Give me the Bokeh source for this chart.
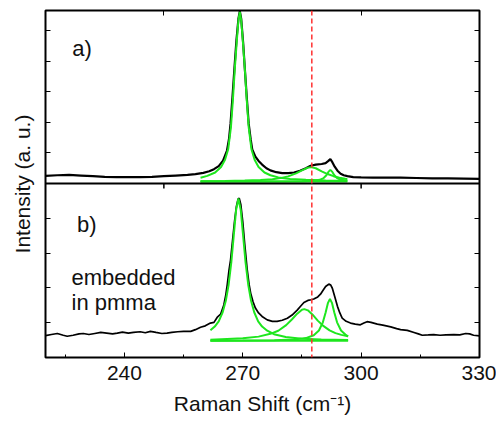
from bokeh.plotting import figure
from bokeh.models import (Range1d, LinearAxis, FixedTicker, Span, Label,
                          CustomJSTickFormatter)
from bokeh.embed import file_html
from bokeh.resources import INLINE

# ---------------- data ----------------
# panel a) : measured spectrum
wn_a = [220, 223, 226, 229, 232, 235, 238, 241, 244, 247, 250, 253, 256, 258, 260,
        261.5, 262.7, 263.9, 265, 266, 266.5, 266.9, 267.4, 267.9, 268.4, 268.9,
        269.25, 269.6, 270.1, 270.5, 271.0, 271.5, 272.0, 272.4, 273.2, 274, 274.9,
        276, 277, 278.5, 280, 281.5, 283, 284.5, 286, 287.2, 288.5, 290, 291, 291.7,
        292.2, 292.7, 293.3, 294, 294.8, 295.6, 296.5, 298, 300, 303, 306, 310, 314,
        318, 322, 326, 330]
int_a = [.25, .27, .28, .26, .24, .22, .21, .21, .21, .22, .24, .26, .28, .31, .35,
         .40, .47, .57, .75, 1.08, 1.45, 1.96, 2.85, 3.80, 4.70, 5.40,
         5.65, 5.40, 4.60, 3.80, 2.85, 1.96, 1.45, 1.12, .88, .74, .62,
         .50, .43, .37, .34, .34, .36, .42, .50, .58, .62, .64, .67, .74,
         .80, .70, .55, .42, .32, .27, .24, .21, .20, .19, .19, .19, .18,
         .17, .17, .16, .15]

# panel a) : fitted components
fit1_a_x = [259.3, 261, 263, 264.5, 265.5, 266.3, 267, 267.5, 268, 268.5, 268.9, 269.25,
            269.6, 270, 270.5, 271, 271.5, 272.2, 273, 274, 275.5, 277, 279, 282, 286,
            291, 296.5]
fit1_a_y = [.19, .25, .36, .54, .78, 1.12, 1.85, 2.75, 3.80, 4.70, 5.35, 5.62,
            5.35, 4.70, 3.80, 2.75, 1.85, 1.12, .78, .54, .36, .27, .20, .15, .12,
            .10, .09]
fit2_a_x = [259.3, 265.5, 270.5, 274.5, 277.5, 279.5, 281.5, 283.5, 285, 286.5, 287.3,
            288.5, 290, 291.5, 293, 294.5, 296, 296.5]
fit2_a_y = [.077, .084, .095, .114, .142, .176, .233, .33, .43, .52, .536,
            .50, .40, .31, .24, .19, .158, .15]
fit3_a_x = [259.3, 270, 280, 285, 288, 289.5, 290.5, 291.2, 291.7, 292.2, 292.7, 293.2,
            293.9, 294.9, 296.5]
fit3_a_y = [.066, .067, .069, .075, .090, .12, .178, .27, .38, .446, .38, .27,
            .178, .12, .089]
base_a_x = [259.3, 296.5]
base_a_y = [.066, .066]

# panel b) : measured spectrum (embedded in pmma)
wn_b = [220, 221.5, 223, 224.5, 225.5, 227, 228.5, 229.6, 231, 232.5,
        234, 235.5, 237, 238.2, 239.5, 241, 242.3, 244, 245.3, 246.6,
        248, 249.5, 250.8, 252, 253.5, 255, 256.8, 258, 259.3, 260.5,
        261.8, 262.7, 263.5, 264.4, 265.2, 265.7, 266.06, 266.5, 266.9, 267.4,
        267.9, 268.4, 268.8, 269.1, 269.5, 270, 270.5, 271.1, 271.6, 272,
        272.6, 273.2, 274, 274.9, 276.2, 277.5, 278.7, 280, 281.3, 282.5,
        283.8, 284.7, 285.5, 286.5, 287.3, 288, 289, 289.7, 290.4, 291,
        291.8, 292.3, 292.7, 293.3, 294, 294.6, 295.2, 296.2, 297.3, 298.5,
        299.8, 300.7, 301.5, 302.5, 304.1, 305.5, 307.5, 309, 310, 311.7,
        313.4, 314.5, 315.5, 317, 318.4, 320, 321.5, 323.5, 325, 326.5,
        327.5, 328.5, 330]
int_b = [.63, .66, .69, .64, .61, .64, .68, .69, .66, .69,
         .72, .70, .68, .70, .73, .70, .72, .74, .71, .75,
         .72, .69, .70, .72, .74, .75, .75, .80, .87, .91,
         .99, 1.01, 1.15, 1.25, 1.51, 1.80, 2.09, 2.50, 2.80, 3.35,
         3.90, 4.35, 4.55, 4.58, 4.40, 3.90, 3.25, 2.55, 2.10, 1.85,
         1.60, 1.42, 1.28, 1.18, 1.08, 1.04, 1.04, 1.07, 1.13, 1.22,
         1.36, 1.48, 1.58, 1.64, 1.66, 1.68, 1.74, 1.82, 1.94, 2.04,
         2.11, 2.08, 1.99, 1.75, 1.47, 1.28, 1.13, 1.04, .99, .96,
         .94, .99, 1.03, 1.01, .96, .93, .88, .83, .80, .78,
         .72, .68, .64, .65, .66, .64, .65, .66, .65, .69,
         .68, .64, .62]

# panel b) : fitted components
fit1_b_x = [261.8, 262.9, 263.9, 264.9, 265.7, 266.4, 267.1, 267.7, 268.3, 268.9,
            269.5, 270.1, 270.7, 271.4, 272.1, 272.9, 273.9, 274.9, 276.2, 277.9,
            280.9, 284.9, 289.9, 296.7]
fit1_b_y = [.78, .89, 1.04, 1.30, 1.63, 2.08, 2.74, 3.49, 4.23, 4.57,
            4.23, 3.49, 2.74, 2.08, 1.63, 1.30, 1.04, .89, .77, .67,
            .59, .54, .52, .50]
fit2_b_x = [261.8, 266, 270, 274, 277, 279, 281, 282.5, 283.8, 285, 285.6, 286.5,
            287.7, 289, 290.5, 292, 293.5, 295, 296.7]
fit2_b_y = [.51, .53, .55, .60, .68, .77, .93, 1.10, 1.26, 1.375, 1.39, 1.355,
            1.23, 1.06, .90, .78, .70, .65, .61]
fit3_b_x = [261.8, 270, 278, 283, 286, 288, 289.3, 290.3, 291, 291.6, 292.1, 292.6,
            293.2, 293.9, 294.9, 296.2, 296.7]
fit3_b_y = [.483, .486, .495, .516, .557, .64, .775, 1.01, 1.295, 1.57, 1.68, 1.57,
            1.295, 1.01, .775, .64, .61]
base_b_x = [261.8, 296.7]
base_b_y = [.48, .48]

ref_line = 287.5                       # dashed reference position
x_ticks = [240, 270, 300, 330]
x_minor = [225, 255, 285, 315]
top_ticks = [250, 300]
a_ticks = [0, 1, 2, 3, 4, 5]
b_ticks = [1, 2, 3, 4]

# ---------------- layout constants ----------------
FRAME_W, FRAME_H = 434, 347
PANEL_B_PX = 174
PANEL_A_PX = FRAME_H - PANEL_B_PX
A_TOP = 5.67
B_TOP = 5.0
MAIN_END = B_TOP * FRAME_H / PANEL_B_PX
A_START = -A_TOP * PANEL_B_PX / PANEL_A_PX
FONT = "Liberation Sans"
TXT = "#111111"
GREEN = "#1ee61e"

# panel-a tick positions expressed on the main (panel b) scale
a_to_main = (PANEL_A_PX / A_TOP) / (PANEL_B_PX / B_TOP)
y_tick_pos = b_ticks + [B_TOP + t * a_to_main for t in a_ticks]

p = figure(frame_width=FRAME_W, frame_height=FRAME_H,
           x_range=Range1d(220, 330), y_range=Range1d(0, MAIN_END),
           output_backend="svg", toolbar_location=None,
           min_border_left=45, min_border_right=17, min_border_top=10,
           min_border_bottom=66)
p.extra_y_ranges = {"a": Range1d(A_START, A_TOP)}
p.grid.visible = False
p.outline_line_color = "black"
p.outline_line_width = 2
p.background_fill_color = "white"
p.border_fill_color = "white"

empty = CustomJSTickFormatter(code="return ''")

# left axis
ya = p.yaxis[0]
ya.ticker = FixedTicker(ticks=y_tick_pos)
ya.formatter = empty
ya.major_label_text_font_size = "0px"
ya.major_label_standoff = 0
ya.major_tick_in = 5
ya.major_tick_out = 0
ya.minor_tick_in = 0
ya.minor_tick_out = 0
ya.axis_line_color = None
ya.axis_label = "Intensity (a. u.)"
ya.axis_label_text_font = FONT
ya.axis_label_text_font_size = "21px"
ya.axis_label_text_font_style = "normal"
ya.axis_label_text_color = TXT
ya.axis_label_standoff = 12

# bottom axis
xa = p.xaxis[0]
xa.ticker = FixedTicker(ticks=x_ticks, minor_ticks=x_minor)
xa.major_tick_in = 5
xa.major_tick_out = 0
xa.minor_tick_in = 3
xa.minor_tick_out = 0
xa.axis_line_color = None
xa.major_label_text_font = FONT
xa.major_label_text_font_size = "21px"
xa.major_label_text_color = TXT
xa.major_label_standoff = 8
xa.axis_label = "Raman Shift (cm\u207b\u00b9)"
xa.axis_label_text_font = FONT
xa.axis_label_text_font_size = "21px"
xa.axis_label_text_font_style = "normal"
xa.axis_label_text_color = TXT
xa.axis_label_standoff = 9

# right axis (ticks only)
ra = LinearAxis(ticker=FixedTicker(ticks=y_tick_pos), formatter=empty,
                major_label_text_font_size="0px", major_label_standoff=0,
                major_tick_in=5, major_tick_out=0, minor_tick_in=0, minor_tick_out=0,
                axis_line_color=None)
p.add_layout(ra, "right")

# top axis (ticks only)
ta = LinearAxis(ticker=FixedTicker(ticks=top_ticks), formatter=empty,
                major_label_text_font_size="0px", major_label_standoff=0,
                major_tick_in=5, major_tick_out=0, minor_tick_in=0, minor_tick_out=0,
                axis_line_color=None)
p.add_layout(ta, "above")

# ---- panel a ----
p.line(wn_a, int_a, y_range_name="a", line_color="black", line_width=2.2)
for xs, ys in [(base_a_x, base_a_y), (fit1_a_x, fit1_a_y),
               (fit2_a_x, fit2_a_y), (fit3_a_x, fit3_a_y)]:
    p.line(xs, ys, y_range_name="a", line_color=GREEN, line_width=2)

# ---- panel b ----
p.line(wn_b, int_b, line_color="black", line_width=1.7)
for xs, ys in [(base_b_x, base_b_y), (fit1_b_x, fit1_b_y),
               (fit2_b_x, fit2_b_y), (fit3_b_x, fit3_b_y)]:
    p.line(xs, ys, line_color=GREEN, line_width=2)

# divider between panels and its top ticks for panel b
p.add_layout(Span(location=B_TOP, dimension="width", line_color="black", line_width=2))
tick_len = 5 * B_TOP / PANEL_B_PX
p.segment(x0=top_ticks, y0=[B_TOP] * len(top_ticks), x1=top_ticks,
          y1=[B_TOP - tick_len] * len(top_ticks), line_color="black", line_width=1.5)

# dashed reference line
p.add_layout(Span(location=ref_line, dimension="height", line_color="#ff3030",
                  line_dash="5 3", line_width=1.5))

# texts
p.add_layout(Label(x=226.8, y=4.43, y_range_name="a", text="a)", text_font=FONT,
                   text_font_size="22px", text_color=TXT, text_baseline="alphabetic"))
p.add_layout(Label(x=228.0, y=3.82, text="b)", text_font=FONT,
                   text_font_size="22px", text_color=TXT, text_baseline="alphabetic"))
p.add_layout(Label(x=226.6, y=2.31, text="embedded", text_font=FONT,
                   text_font_size="22px", text_color=TXT, text_baseline="alphabetic"))
p.add_layout(Label(x=226.6, y=1.57, text="in pmma", text_font=FONT,
                   text_font_size="22px", text_color=TXT, text_baseline="alphabetic"))

open("out.html", "w").write(file_html(p, INLINE))
